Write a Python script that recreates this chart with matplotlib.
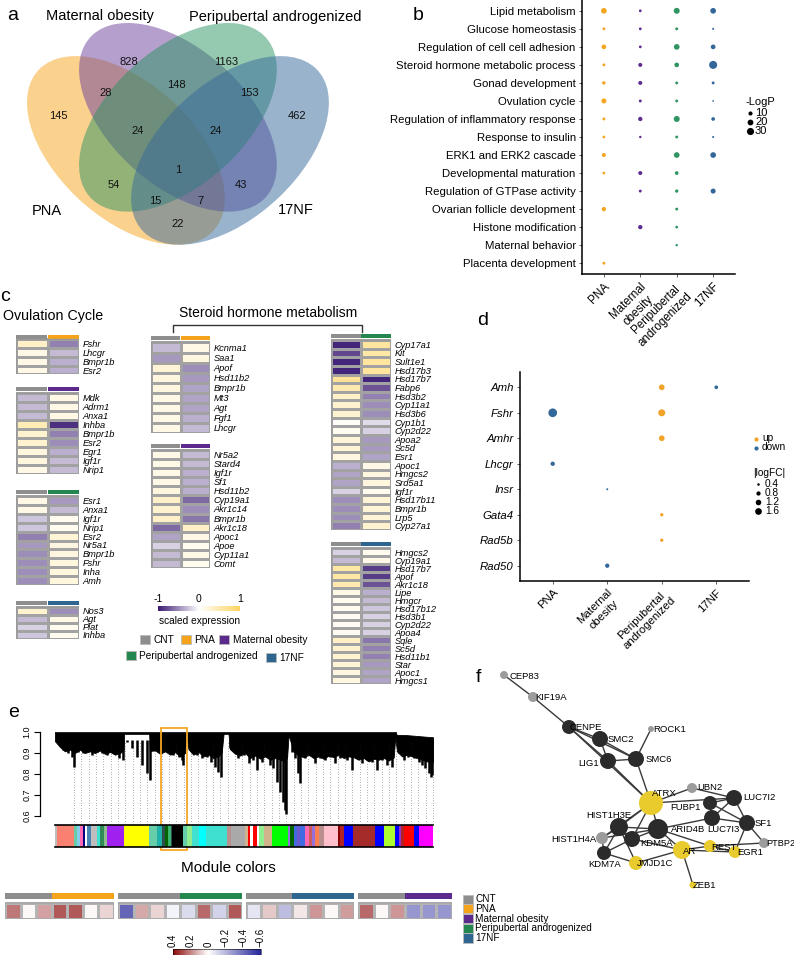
import numpy as np
import matplotlib
matplotlib.use("Agg")
import matplotlib.pyplot as plt
from matplotlib.patches import Ellipse, Rectangle
from matplotlib.colors import LinearSegmentedColormap, Normalize
from matplotlib.cm import ScalarMappable

plt.rcParams['font.family'] = ['Liberation Sans', 'DejaVu Sans']
plt.rcParams['axes.facecolor'] = 'none'

W, H = 794, 955
fig = plt.figure(figsize=(W / 100, H / 100), dpi=100)


def px_axes(x0, y0, x1, y1):
    # axes placed by pixel box (top-left origin)
    return fig.add_axes([x0 / W, 1 - y1 / H, (x1 - x0) / W, (y1 - y0) / H])


nan = np.nan
CNT = '#8E8E8E'
grp_cols = {'CNT': CNT, 'PNA': '#F5A31A', 'Maternal obesity': '#5B2A8C',
            'Peripubertal androgenized': '#23874F', '17NF': '#2F6690'}

# ---------------- data ----------------
# a: venn
venn_names = ['PNA', 'Maternal obesity', 'Peripubertal androgenized', '17NF']
venn_cols = ['#F8A41E', '#6B419C', '#2C9463', '#35699A']
venn_counts = [145, 828, 1163, 462, 28, 148, 153, 24, 24, 1, 54, 43, 15, 7, 22]

# b: GO terms, -log P per model
go_terms = ['Lipid metabolism', 'Glucose homeostasis', 'Regulation of cell cell adhesion',
            'Steroid hormone metabolic process', 'Gonad development', 'Ovulation cycle',
            'Regulation of inflammatory response', 'Response to insulin',
            'ERK1 and ERK2 cascade', 'Developmental maturation',
            'Regulation of GTPase activity', 'Ovarian follicle development',
            'Histone modification', 'Maternal behavior', 'Placenta development']
model_labels = ['PNA', 'Maternal\nobesity', 'Peripubertal\nandrogenized', '17NF']
logp_pna = [19, 5, 13, 5, 7, 15, 5, 4.5, 9.5, 4.5, nan, 11, nan, nan, 5]
logp_mo = [4.5, 4.5, 4.5, 9.5, 9.5, 5, 11, 3.5, nan, 9.5, 5, nan, 11, nan, nan]
logp_pa = [21, 5, 19, 13, 5, 5, 21, 5, 19, 8, 6.5, 5, 4.5, 3.5, nan]
logp_nf = [19, 2.5, 13, 38, 5, 1.7, 8, 2.5, 19, nan, 15, nan, nan, nan, nan]
b_cols = ['#F4A521', '#5D2C8E', '#2E9563', '#33679A']

# c: scaled expression (CNT, treatment)
ov_pna_genes = ['Fshr', 'Lhcgr', 'Bmpr1b', 'Esr2']
ov_pna_cnt = [0.35, 0.15, 0.15, 0.15]
ov_pna_trt = [-0.55, -0.3, -0.35, -0.35]
ov_mo_genes = ['Mdk', 'Adrm1', 'Anxa1', 'Inhba', 'Bmpr1b', 'Esr2', 'Egr1', 'Igf1r', 'Nrip1']
ov_mo_cnt = [-0.3, -0.3, -0.3, 0.45, 0.3, 0.3, 0.2, 0.2, 0.15]
ov_mo_trt = [0.15, 0.15, 0.15, -0.9, -0.55, -0.5, -0.35, -0.3, -0.3]
ov_pa_genes = ['Esr1', 'Anxa1', 'Igf1r', 'Nrip1', 'Esr2', 'Nr5a1', 'Bmpr1b', 'Fshr', 'Inha', 'Amh']
ov_pa_cnt = [0.15, 0.15, -0.25, -0.25, -0.55, -0.45, -0.5, -0.5, -0.5, -0.5]
ov_pa_trt = [-0.45, -0.3, 0.1, 0.1, 0.25, 0.2, 0.2, 0.2, 0.2, 0.2]
ov_nf_genes = ['Nos3', 'Agt', 'Plat', 'Inhba']
ov_nf_cnt = [0.3, -0.3, -0.2, -0.25]
ov_nf_trt = [-0.5, 0.15, 0.1, 0.1]
st_pna_genes = ['Kcnma1', 'Saa1', 'Apof', 'Hsd11b2', 'Bmpr1b', 'Mt3', 'Agt', 'Fgf1', 'Lhcgr']
st_pna_cnt = [-0.3, -0.45, 0.25, 0.2, 0.2, 0.15, 0.15, 0.15, 0.15]
st_pna_trt = [0.15, 0.2, -0.5, -0.45, -0.4, -0.4, -0.4, -0.35, -0.3]
st_mo_genes = ['Nr5a2', 'Stard4', 'Igf1r', 'Sf1', 'Hsd11b2', 'Cyp19a1', 'Akr1c14', 'Bmpr1b',
               'Akr1c18', 'Apoc1', 'Apoe', 'Cyp11a1', 'Comt']
st_mo_cnt = [0.15, 0.15, 0.15, 0.15, 0.2, 0.35, 0.3, 0.35, -0.65, -0.4, -0.2, -0.3, -0.3]
st_mo_trt = [-0.3, -0.3, -0.35, -0.35, -0.35, -0.65, -0.5, -0.6, 0.35, 0.15, 0.1, 0.15, 0.1]
st_pa_genes = ['Cyp17a1', 'Kit', 'Sult1e1', 'Hsd17b3', 'Hsd17b7', 'Fabp6', 'Hsd3b2', 'Cyp11a1',
               'Hsd3b6', 'Cyp1b1', 'Cyp2d22', 'Apoa2', 'Sc5d', 'Esr1', 'Apoc1', 'Hmgcs2',
               'Srd5a1', 'Igf1r', 'Hsd17b11', 'Bmpr1b', 'Lrp5', 'Cyp27a1']
st_pa_cnt = [-0.95, -0.8, -0.95, -0.95, 0.65, 0.5, 0.35, 0.3, 0.3, 0.05, 0.1, 0.25, 0.25, 0.2,
             -0.35, -0.4, -0.4, -0.2, -0.5, -0.5, -0.5, -0.55]
st_pa_trt = [0.6, 0.55, 0.6, 0.6, -0.95, -0.75, -0.55, -0.5, -0.5, -0.15, -0.2, -0.45, -0.45,
             -0.4, 0.15, 0.2, 0.2, 0.1, 0.25, 0.25, 0.25, 0.3]
st_nf_genes = ['Hmgcs2', 'Cyp19a1', 'Hsd17b7', 'Apof', 'Akr1c18', 'Lipe', 'Hmgcr', 'Hsd17b12',
               'Hsd3b1', 'Cyp2d22', 'Apoa4', 'Sqle', 'Sc5d', 'Hsd11b1', 'Star', 'Apoc1', 'Hmgcs1']
st_nf_cnt = [-0.2, -0.3, 0.55, 0.55, 0.5, 0.15, 0.1, 0.1, 0.08, 0.08, 0.08, 0.35, 0.3, 0.3,
             0.25, 0.2, 0.2]
st_nf_trt = [0.1, 0.15, -0.85, -0.85, -0.75, -0.35, -0.3, -0.25, -0.2, -0.2, -0.2, -0.6,
             -0.55, -0.55, -0.45, -0.4, -0.4]

# d: selected genes, |logFC| and direction
d_genes = ['Amh', 'Fshr', 'Amhr', 'Lhcgr', 'Insr', 'Gata4', 'Rad5b', 'Rad50']
d_gene = ['Amh', 'Amh', 'Fshr', 'Fshr', 'Amhr', 'Lhcgr', 'Insr', 'Gata4', 'Rad5b', 'Rad50']
d_model = [3, 4, 1, 3, 3, 1, 2, 3, 3, 2]
d_logfc = [1.24, 0.66, 2.45, 1.72, 1.24, 0.82, 0.31, 0.57, 0.57, 0.82]
d_dir = ['up', 'down', 'down', 'up', 'up', 'down', 'down', 'up', 'up', 'down']
d_cols = {'up': '#F2A32A', 'down': '#33689A'}

# e: gene dendrogram (leaf position 0-1, merge height)
tip_pos = [0.022, 0.035, 0.044, 0.049, 0.062, 0.075, 0.086, 0.097, 0.110, 0.124, 0.137, 0.154,
           0.168, 0.179, 0.190, 0.203, 0.216, 0.229, 0.243, 0.252, 0.269, 0.287, 0.300, 0.313,
           0.327, 0.335, 0.338, 0.362, 0.375, 0.388, 0.402, 0.412, 0.424, 0.432, 0.439, 0.463,
           0.477, 0.485, 0.499, 0.512, 0.525, 0.534, 0.547, 0.560, 0.569, 0.578, 0.587, 0.596,
           0.603, 0.609, 0.612, 0.627, 0.636, 0.644, 0.649, 0.662, 0.675, 0.689, 0.702, 0.715,
           0.728, 0.741, 0.755, 0.772, 0.785, 0.799, 0.812, 0.825, 0.838, 0.852, 0.865, 0.878,
           0.891, 0.909, 0.922, 0.935, 0.949, 0.962, 0.971, 0.980, 0.989, 0.995, 0.998]
tip_h = [0.913, 0.897, 0.881, 0.834, 0.905, 0.897, 0.913, 0.889, 0.905, 0.897, 0.889, 0.897,
         0.874, 0.866, 0.953, 0.921, 0.881, 0.842, 0.802, 0.771, 0.913, 0.921, 0.905, 0.889,
         0.881, 0.866, 0.842, 0.905, 0.889, 0.874, 0.881, 0.858, 0.834, 0.810, 0.787, 0.921,
         0.905, 0.874, 0.889, 0.850, 0.866, 0.818, 0.858, 0.881, 0.842, 0.826, 0.763, 0.715,
         0.668, 0.628, 0.608, 0.905, 0.874, 0.802, 0.755, 0.874, 0.889, 0.850, 0.874, 0.866,
         0.881, 0.850, 0.874, 0.866, 0.818, 0.874, 0.850, 0.866, 0.858, 0.818, 0.866, 0.842,
         0.834, 0.897, 0.866, 0.881, 0.874, 0.858, 0.842, 0.826, 0.802, 0.787, 0.795]
mass_pos = [0.000, 0.013, 0.026, 0.040, 0.053, 0.066, 0.079, 0.093, 0.106, 0.119, 0.132, 0.146,
            0.159, 0.172, 0.181, 0.183, 0.249, 0.251, 0.265, 0.278, 0.291, 0.305, 0.318, 0.331,
            0.344, 0.348, 0.353, 0.366, 0.380, 0.393, 0.406, 0.419, 0.432, 0.441, 0.446, 0.459,
            0.463, 0.476, 0.490, 0.503, 0.516, 0.530, 0.543, 0.556, 0.569, 0.583, 0.596, 0.609,
            0.614, 0.618, 0.631, 0.644, 0.658, 0.671, 0.684, 0.697, 0.711, 0.724, 0.737, 0.750,
            0.764, 0.777, 0.790, 0.803, 0.817, 0.830, 0.843, 0.856, 0.870, 0.883, 0.896, 0.900,
            0.905, 0.918, 0.931, 0.944, 0.958, 0.971, 0.984, 1.000]
mass_top = [0.995] * 72 + [0.985, 0.985, 0.984, 0.982, 0.980, 0.978, 0.976, 0.974]
mass_low = [0.955, 0.928, 0.907, 0.915, 0.899, 0.915, 0.899, 0.907, 0.899, 0.911, 0.895, 0.904,
            0.891, 0.899, 0.911, 0.990, 0.990, 0.909, 0.911, 0.895, 0.907, 0.891, 0.903, 0.883,
            0.899, 0.985, 0.917, 0.891, 0.903, 0.883, 0.891, 0.875, 0.883, 0.901, 0.990, 0.990,
            0.917, 0.896, 0.887, 0.899, 0.875, 0.887, 0.872, 0.883, 0.867, 0.875, 0.867, 0.859,
            0.877, 0.985, 0.906, 0.887, 0.879, 0.891, 0.875, 0.883, 0.872, 0.887, 0.879, 0.891,
            0.875, 0.883, 0.879, 0.867, 0.875, 0.859, 0.872, 0.867, 0.875, 0.864, 0.877, 0.972,
            0.906, 0.883, 0.891, 0.883, 0.875, 0.867, 0.859, 0.856]
module_cols = ['#BEBEBE', '#FA8072', '#66CDAA', '#87CEEB', '#FF69B4', '#000080', '#FFFFFF',
               '#4682B4', '#BEBEBE', '#40E0D0', '#2E8B57', '#8FBC8F', '#A020F0', '#FFFF00',
               '#66CDAA', '#20B2AA', '#2F4F4F', '#006400', '#3CB371', '#2F4F4F', '#000000',
               '#66CDAA', '#90EE90', '#40E0D0', '#00FFFF', '#40E0D0', '#BC8F8F', '#A9A9A9',
               '#A9A9A9', '#D2B48C', '#FF0000', '#FFFFFF', '#FF0000', '#FFFFFF', '#90EE90',
               '#D2B48C', '#00FF00', '#9370DB', '#006400', '#4169E1', '#6A5ACD', '#4169E1',
               '#FF69B4', '#CD5C5C', '#9370DB', '#FF7F50', '#BC8F8F', '#FFC0CB', '#8B0000',
               '#B22222', '#0000FF', '#A52A2A', '#0000FF', '#ADFF2F', '#0000FF', '#9932CC',
               '#B22222', '#FF0000', '#0000FF', '#FF00FF']
module_w = [7, 50, 10, 8, 8, 8, 6, 10, 18, 10, 12, 10, 50, 76, 22, 15, 10, 10, 7, 3, 35, 10,
            15, 23, 19, 63, 12, 13, 30, 7, 8, 8, 12, 5, 15, 25, 47, 8, 10, 10, 10, 15, 10, 10,
            10, 10, 15, 42, 8, 10, 28, 67, 25, 35, 10, 8, 7, 30, 15, 43]

# e: module-trait correlation per sample
trait_groups = ['PNA', 'Peripubertal androgenized', '17NF', 'Maternal obesity']
trait_n_cnt = [3, 4, 3, 3]
trait_vals = [[0.22, 0.01, 0.15, 0.27, 0.27, 0.01, 0.07],
              [-0.42, 0.14, 0.07, -0.03, -0.1, 0.24, -0.12, 0.27],
              [-0.07, 0.09, -0.18, 0.04, 0.17, 0.01, 0.16],
              [0.24, 0.01, 0.17, -0.28, -0.28, -0.28]]

# f: hub gene network
net_name = ['CEP83', 'KIF19A', 'CENPE', 'SMC2', 'ROCK1', 'LIG1', 'SMC6', 'ATRX', 'UBN2',
            'LUC7I2', 'FUBP1', 'LUC7I3', 'SF1', 'HIST1H3E', 'ARID4B', 'HIST1H4A', 'KDM5A',
            'REST', 'PTBP2', 'AR', 'EGR1', 'KDM7A', 'JMJD1C', 'ZEB1']
net_x = [504, 533, 569, 600, 651, 608, 636, 651, 692, 734, 710, 712, 747, 619, 658, 602, 632,
         710, 764, 682, 735, 604, 636, 693]
net_y = [675, 697, 727, 739, 729, 761, 759, 803, 788, 798, 803, 818, 823, 827, 829, 838, 839,
         846, 843, 850, 852, 853, 863, 885]
net_r = [4, 5, 7, 8, 3, 8, 8, 12, 5, 8, 7, 8, 8, 9, 10, 6, 8, 6, 5, 9, 6, 7, 7, 3.5]
net_kind = ['other', 'other', 'hub', 'hub', 'other', 'hub', 'hub', 'tf', 'other', 'hub', 'hub',
            'hub', 'hub', 'hub', 'hub', 'other', 'hub', 'tf', 'other', 'tf', 'tf', 'hub', 'tf',
            'tf']
net_edges = [('CEP83', 'KIF19A'), ('KIF19A', 'CENPE'), ('CENPE', 'SMC2'), ('CENPE', 'LIG1'),
             ('CENPE', 'SMC6'), ('CENPE', 'ATRX'), ('SMC2', 'LIG1'), ('SMC2', 'SMC6'),
             ('LIG1', 'SMC6'), ('ROCK1', 'SMC6'), ('SMC6', 'ATRX'), ('LIG1', 'ATRX'),
             ('ATRX', 'UBN2'), ('ATRX', 'HIST1H3E'), ('ATRX', 'KDM5A'), ('ATRX', 'ARID4B'),
             ('ATRX', 'LUC7I2'), ('ATRX', 'HIST1H4A'), ('UBN2', 'LUC7I2'), ('LUC7I2', 'FUBP1'),
             ('LUC7I2', 'LUC7I3'), ('LUC7I2', 'SF1'), ('FUBP1', 'LUC7I3'), ('FUBP1', 'SF1'),
             ('LUC7I3', 'SF1'), ('SF1', 'PTBP2'), ('SF1', 'EGR1'), ('HIST1H3E', 'ARID4B'),
             ('HIST1H3E', 'KDM5A'), ('HIST1H3E', 'KDM7A'), ('HIST1H3E', 'HIST1H4A'),
             ('HIST1H4A', 'KDM7A'), ('KDM5A', 'KDM7A'), ('KDM5A', 'ARID4B'), ('KDM5A', 'AR'),
             ('HIST1H3E', 'JMJD1C'), ('KDM7A', 'JMJD1C'), ('JMJD1C', 'AR'), ('ARID4B', 'AR'),
             ('ARID4B', 'LUC7I3'), ('ARID4B', 'REST'), ('AR', 'REST'), ('AR', 'EGR1'),
             ('AR', 'ZEB1'), ('REST', 'PTBP2'), ('REST', 'EGR1'), ('HIST1H4A', 'ARID4B')]
kind_cols = {'hub': '#2B2B2B', 'other': '#9C9C9C', 'tf': '#E9CB2E'}

# ---------------- overlay for free text ----------------
ov = px_axes(0, 0, W, H)
ov.set_xlim(0, W)
ov.set_ylim(H, 0)
ov.axis('off')
for lab, x, y in [('a', 13, 15), ('b', 418, 15), ('c', 5, 296), ('d', 483, 320),
                  ('e', 14, 712), ('f', 478, 677)]:
    ov.text(x, y, lab, fontsize=14, ha='center', va='center')

# ---------------- a: Venn ----------------
ax_a = px_axes(0, 0, 340, 255)
ax_a.set_xlim(-0.0128, 0.967)
ax_a.set_ylim(0.154, 0.9245)
ax_a.axis('off')
for (cx, cy, ang), col in zip([(0.35, 0.47, -45), (0.5, 0.57, -45), (0.5, 0.57, 45),
                               (0.65, 0.47, 45)], venn_cols):
    ax_a.add_patch(Ellipse((cx, cy), 0.70, 0.40, angle=ang, facecolor=col, alpha=0.5, lw=0))
venn_xy = [(0.154, 0.574), (0.359, 0.737), (0.638, 0.737), (0.843, 0.574), (0.293, 0.644),
           (0.497, 0.668), (0.705, 0.644), (0.385, 0.529), (0.610, 0.529), (0.500, 0.411),
           (0.316, 0.366), (0.682, 0.366), (0.434, 0.317), (0.566, 0.317), (0.500, 0.248)]
for n, (x, y) in zip(venn_counts, venn_xy):
    ax_a.text(x, y, str(n), fontsize=8, ha='center', va='center', color='#111111')
for name, (x, y) in zip(venn_names, [(0.123, 0.287), (0.275, 0.876), (0.780, 0.873),
                                     (0.840, 0.290)]):
    ax_a.text(x, y, name, fontsize=10.5, ha='center', va='center')

# ---------------- b: GO dot plot ----------------
def logp_size(v):
    return (1.3 * np.sqrt(v) * 0.72) ** 2

ax_b = px_axes(582, 0, 735, 274)
rows = np.arange(1, len(go_terms) + 1)
for j, (vals, col) in enumerate(zip([logp_pna, logp_mo, logp_pa, logp_nf], b_cols)):
    v = np.array(vals, float)
    ok = ~np.isnan(v)
    ax_b.scatter(np.full(ok.sum(), j + 1), rows[ok], s=logp_size(v[ok]), color=col, lw=0,
                 clip_on=False)
ax_b.set_xlim(0.4, 4.6)
ax_b.set_ylim(15.6, 0.4)
ax_b.set_yticks(rows, go_terms, fontsize=8.2)
ax_b.set_xticks([1, 2, 3, 4])
ax_b.set_xticklabels(model_labels, fontsize=8.4, rotation=45, ha='right', va='top',
                     rotation_mode='anchor', multialignment='center')
for s in ['top', 'right']:
    ax_b.spines[s].set_visible(False)
for s in ['left', 'bottom']:
    ax_b.spines[s].set_linewidth(1.1)
ax_b.tick_params(length=2.5, width=0.6, color='#444444', pad=2)

ov.text(745, 102, '-LogP', fontsize=8, va='center')
for v, y in zip([10, 20, 30], [113, 122, 131]):
    ov.scatter(750, y, s=logp_size(v), color='black', lw=0)
    ov.text(755, y, str(v), fontsize=8, va='center')

# ---------------- c: heatmaps ----------------
hm_cmap = LinearSegmentedColormap.from_list('pwy', ['#3A1A72', '#FFFFFF', '#FFD35E'])
hm_norm = Normalize(-1, 1)


def small_heat(x0, x1, head_top, cell_top, cell_bot, genes, cnt, trt, grp):
    n = len(genes)
    rh = (cell_bot - cell_top) / n
    ax = px_axes(x0, head_top, x1, cell_bot)
    ax.pcolormesh(np.arange(3), np.arange(n + 1), np.column_stack([cnt, trt]), cmap=hm_cmap,
                  norm=hm_norm, edgecolors='#A2A2A2', linewidth=0.75)
    ax.bar([0.5, 1.5], 4 / rh, bottom=-(cell_top - head_top) / rh, width=0.97,
           color=[CNT, grp_cols[grp]])
    ax.set_xlim(0, 2)
    ax.set_ylim(n, -(cell_top - head_top) / rh)
    ax.set_xticks([])
    ax.set_yticks(np.arange(n) + 0.5, genes, fontsize=6.7, fontstyle='italic')
    ax.yaxis.tick_right()
    ax.tick_params(length=0, pad=2.5)
    for s in ax.spines.values():
        s.set_visible(False)
    ax.add_patch(Rectangle((0, 0), 2, n, fill=False, edgecolor='#9A9A9A', lw=1.0))


ov.text(3, 316, 'Ovulation Cycle', fontsize=10.3, va='center')
small_heat(16, 79, 335, 339.5, 374.5, ov_pna_genes, ov_pna_cnt, ov_pna_trt, 'PNA')
small_heat(16, 79, 387, 392.5, 474, ov_mo_genes, ov_mo_cnt, ov_mo_trt, 'Maternal obesity')
small_heat(16, 79, 490.5, 496, 585, ov_pa_genes, ov_pa_cnt, ov_pa_trt,
           'Peripubertal androgenized')
small_heat(16, 79, 601.5, 607, 639, ov_nf_genes, ov_nf_cnt, ov_nf_trt, '17NF')

ov.text(268, 313, 'Steroid hormone metabolism', fontsize=10, ha='center', va='center')
ov.plot([173, 173, 362, 362], [332, 325, 325, 332], color='#333333', lw=1)
small_heat(151, 210, 336, 342.5, 433, st_pna_genes, st_pna_cnt, st_pna_trt, 'PNA')
small_heat(151, 210, 444, 450, 568, st_mo_genes, st_mo_cnt, st_mo_trt, 'Maternal obesity')
small_heat(331, 391, 334, 340, 530, st_pa_genes, st_pa_cnt, st_pa_trt,
           'Peripubertal androgenized')
small_heat(331, 391, 542.5, 548, 684, st_nf_genes, st_nf_cnt, st_nf_trt, '17NF')

cax_c = px_axes(158, 606, 240, 610.5)
cb_c = fig.colorbar(ScalarMappable(hm_norm, hm_cmap), cax=cax_c, orientation='horizontal')
cb_c.outline.set_visible(False)
cb_c.set_ticks([-1, 0, 1], labels=['-1', '0', '1'])
cax_c.xaxis.set_ticks_position('top')
cax_c.tick_params(length=0, labelsize=7.5, pad=1.5)
ov.text(200, 621, 'scaled expression', fontsize=7.3, ha='center', va='center')
for grp, bx, by, tx in [('CNT', 140, 635, 153), ('PNA', 181, 635, 194),
                        ('Maternal obesity', 219, 635, 233),
                        ('Peripubertal androgenized', 126, 651, 139), ('17NF', 266, 653, 279)]:
    ov.add_patch(Rectangle((bx, by), 10, 9, facecolor=grp_cols[grp], edgecolor='#BBBBBB',
                           lw=0.6))
    ov.text(tx, by + 4.5, grp, fontsize=7.3, va='center')

# ---------------- d: gene dot plot ----------------
def fc_size(v):
    return ((6.64 * np.sqrt(v) - 1.7) * 0.72) ** 2

ax_d = px_axes(520, 372, 749, 581)
gy = [d_genes.index(g) + 1 for g in d_gene]
ax_d.scatter(d_model, gy, s=fc_size(np.array(d_logfc)), c=[d_cols[k] for k in d_dir], lw=0)
ax_d.set_xlim(0.4, 4.6)
ax_d.set_ylim(8.6, 0.4)
ax_d.set_yticks(np.arange(1, 9), d_genes, fontsize=8.2, fontstyle='italic')
ax_d.set_xticks([1, 2, 3, 4])
ax_d.set_xticklabels(model_labels, fontsize=8.2, rotation=45, ha='right', va='top',
                     rotation_mode='anchor', multialignment='center')
for s in ['top', 'right']:
    ax_d.spines[s].set_visible(False)
for s in ['left', 'bottom']:
    ax_d.spines[s].set_linewidth(1.1)
ax_d.tick_params(length=2.5, width=0.6, color='#444444', pad=2)

for k, y in [('up', 439), ('down', 448)]:
    ov.scatter(756, y, s=9, color=d_cols[k], lw=0)
    ov.text(762, y - 1, k, fontsize=7.3, va='center')
ov.text(753, 473, '|logFC|', fontsize=7.3, va='center')
for v, y in zip([0.4, 0.8, 1.2, 1.6], [484, 493, 502, 511]):
    ov.scatter(758, y, s=fc_size(v), color='black', lw=0)
    ov.text(765, y, str(v), fontsize=7.3, va='center')

# ---------------- e: dendrogram + module colors ----------------
ax_e = px_axes(40, 725, 440, 822)
ax_e.set_xlim(-15 / 378, 1 + 7 / 378)
ax_e.set_ylim(0.5715, 1.032)
ax_e.vlines(np.linspace(0.05, 1.0, 50), 0.575, 0.95, colors='#222222', lw=0.6,
            linestyles=(0, (0.5, 2.6)))
ax_e.fill_between(mass_pos, mass_top, mass_low, color='black', lw=0.6)
ax_e.vlines(tip_pos, tip_h, 0.96, colors='black', lw=1.8)
ax_e.hlines(0.995, 0, 0.905, colors='black', lw=1.2)
ax_e.add_patch(Rectangle((0.280, 0.439), 0.069, 0.579, fill=False, edgecolor='#F5A623',
                         lw=1.3, clip_on=False, zorder=5))
for s in ['top', 'right', 'bottom']:
    ax_e.spines[s].set_visible(False)
ax_e.spines['left'].set_bounds(0.6, 1.0)
ax_e.spines['left'].set_linewidth(0.9)
ax_e.set_xticks([])
ax_e.set_yticks([0.6, 0.7, 0.8, 0.9, 1.0], ['0.6', '0.7', '0.8', '0.9', '1.0'])
ax_e.tick_params(axis='y', length=4, width=0.8, labelsize=6.5, pad=2)
for t in ax_e.get_yticklabels():
    t.set_rotation(90)
    t.set_va('center')

ax_m = px_axes(55, 825, 433, 847)
edges = np.concatenate([[0], np.cumsum(module_w)])
ax_m.bar(edges[:-1], 1, width=module_w, align='edge', color=module_cols, lw=0)
ax_m.set_xlim(0, edges[-1])
ax_m.set_ylim(0, 1)
ax_m.set_xticks([])
ax_m.set_yticks([])
for s in ['left', 'right']:
    ax_m.spines[s].set_visible(False)
for s in ['top', 'bottom']:
    ax_m.spines[s].set_linewidth(1.2)
ov.text(228, 868, 'Module colors', fontsize=11, ha='center', va='center')

tr_cmap = LinearSegmentedColormap.from_list(
    'bwr', [(0, '#23239A'), (0.6, '#FFFFFF'), (1, '#8B0A0A')])
tr_norm = Normalize(-0.6, 0.4)
for (x0, x1), grp, ncnt, vals in zip([(5, 114), (118, 242), (246, 354), (358, 452)],
                                     trait_groups, trait_n_cnt, trait_vals):
    n = len(vals)
    ax = px_axes(x0, 893, x1, 919)
    ax.pcolormesh(np.arange(n + 1), [0, 1], np.array([vals]), cmap=tr_cmap, norm=tr_norm,
                  edgecolors='#B4B4B4', linewidth=0.8)
    ax.bar([0, ncnt], 0.375, bottom=-0.625, width=[ncnt, n - ncnt], align='edge',
           color=[CNT, grp_cols[grp]], lw=0)
    ax.set_xlim(0, n)
    ax.set_ylim(1, -0.625)
    ax.axis('off')
    ax.add_patch(Rectangle((0, 0), n, 1, fill=False, edgecolor='#A8A8A8', lw=1.2))

cax_e = px_axes(173, 949, 261, 955)
cb_e = fig.colorbar(ScalarMappable(tr_norm, tr_cmap), cax=cax_e, orientation='horizontal')
cb_e.outline.set_linewidth(0.4)
cax_e.invert_xaxis()
cb_e.set_ticks([0.4, 0.2, 0, -0.2, -0.4, -0.6],
               labels=['0.4', '0.2', '0', '\u22120.2', '\u22120.4', '\u22120.6'])
cax_e.xaxis.set_ticks_position('top')
cax_e.tick_params(length=0, labelsize=7, pad=1.5, labelrotation=90)

for i, grp in enumerate(['CNT', 'PNA', 'Maternal obesity', 'Peripubertal androgenized', '17NF']):
    y = 894.5 + i * 9.7
    ov.add_patch(Rectangle((463, y), 10, 9.2, facecolor=grp_cols[grp], edgecolor='#BBBBBB',
                           lw=0.6))
    ov.text(475, y + 4.6, grp, fontsize=7.2, va='center')

# ---------------- f: network ----------------
ax_f = px_axes(478, 660, 794, 900)
ax_f.set_xlim(478, 794)
ax_f.set_ylim(900, 660)
ax_f.axis('off')
idx = {n: i for i, n in enumerate(net_name)}
for a, b in net_edges:
    ax_f.plot([net_x[idx[a]], net_x[idx[b]]], [net_y[idx[a]], net_y[idx[b]]],
              color='#3A3A3A', lw=1.0, zorder=1)
ax_f.scatter(net_x, net_y, s=[(2 * r * 0.72) ** 2 for r in net_r],
             c=[kind_cols[k] for k in net_kind], lw=0, zorder=2)
net_lab = {'CEP83': (510, 676, 'left'), 'KIF19A': (535, 697, 'left'),
           'CENPE': (570, 727, 'left'), 'SMC2': (608, 739, 'left'),
           'ROCK1': (653, 729, 'left'), 'LIG1': (599, 763, 'right'),
           'SMC6': (646, 759, 'left'), 'ATRX': (652, 793, 'left'),
           'UBN2': (697, 787, 'left'), 'LUC7I2': (743, 797, 'left'),
           'FUBP1': (701, 807, 'right'), 'LUC7I3': (707, 829, 'left'),
           'SF1': (755, 823, 'left'), 'HIST1H3E': (631, 815, 'right'),
           'ARID4B': (671, 829, 'left'), 'HIST1H4A': (596, 839, 'right'),
           'KDM5A': (640, 843, 'left'), 'REST': (711, 847, 'left'),
           'PTBP2': (766, 843, 'left'), 'AR': (683, 851, 'left'),
           'EGR1': (737, 852, 'left'), 'KDM7A': (605, 864, 'center'),
           'JMJD1C': (637, 863, 'left'), 'ZEB1': (693, 885, 'left')}
for name in net_name:
    tx, ty, ha = net_lab[name]
    ax_f.text(tx, ty, name, fontsize=6.6 if name == 'PTBP2' else 6.8, ha=ha, va='center',
              zorder=3)

fig.savefig('out.png', dpi=100)
